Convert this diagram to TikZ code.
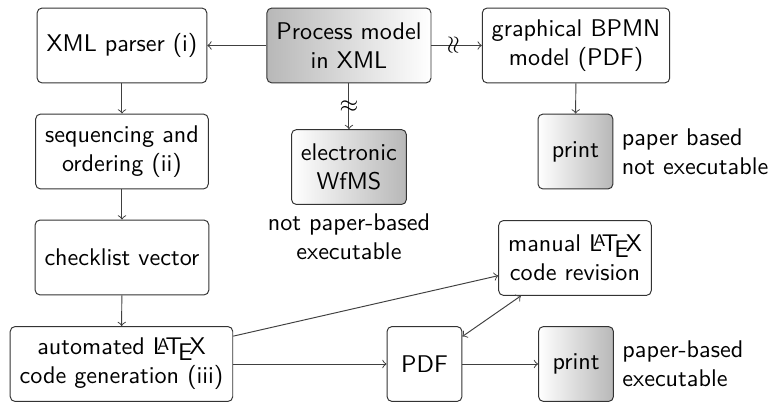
\documentclass[tikz,border=0pt]{standalone}
\usetikzlibrary{arrows}
\begin{document}
\begin{tikzpicture}
          [font=\sffamily,
          box/.style={shape=rectangle,draw=black!80,rounded corners=2pt,align=center,minimum height=1.09cm,minimum width=1.09cm,inner xsep=3.9pt},
          shadebox/.style={box,left color=white,right color=black!28},
          shadeleft/.style={box,left color=black!28,right color=white},
          arc/.style={->,>=to,draw=black!75},
          wave/.style={sloped,rotate=90,inner sep=0pt,font=\normalsize}]

            \useasboundingbox (0,0) rectangle (11.27,-5.88);

            \node (parser) [box] at (1.776,-0.662) {XML parser (i)};
            \node (order) [box] at (1.776,-2.206) {sequencing and\\ordering (ii)};
            \node (vector) [box] at (1.776,-3.749) {checklist vector};
            \node (gen) [box] at (1.769,-5.300) {automated \LaTeX\\code generation (iii)};
            \node (model) [shadeleft] at (5.081,-0.662) {Process model\\in XML};
            \node (wfms) [shadebox] at (5.081,-2.432) [label = {[align=center]below:{not paper-based\\executable}}] {electronic\\WfMS};
            \node (bpmn) [box] at (8.387,-0.662) {graphical BPMN\\model (PDF)};
            \node (print1) [shadebox] at (8.379,-2.206) [label = {[align=left]right:{paper based\\not executable}}] {print};
            \node (revision) [box] at (8.372,-3.756) {manual \LaTeX\\code revision};
            \node (pdf) [box] at (6.181,-5.300) {PDF};
            \node (print2) [shadebox] at (8.387,-5.300) [label = {[align=left]right:{paper-based\\executable}}] {print};

            \draw [arc] (model) to (parser);
            \draw [arc] (model) to node [wave, pos=0.45] {$\approx$} (bpmn);
            \draw [arc] (model) to node [wave] {$\approx$} (wfms);
            \draw [arc] (bpmn) to (print1);
            \draw [arc] (parser) to (order);
            \draw [arc] (order) to (vector);
            \draw [arc] (vector) to (gen);
            \draw [arc] (gen) to (pdf);
            \draw [arc] (gen.14) to (revision.193);
            \draw [arc, <->] (pdf.36) to (revision.215);
            \draw [arc] (pdf) to (print2);

        \end{tikzpicture}
\end{document}
